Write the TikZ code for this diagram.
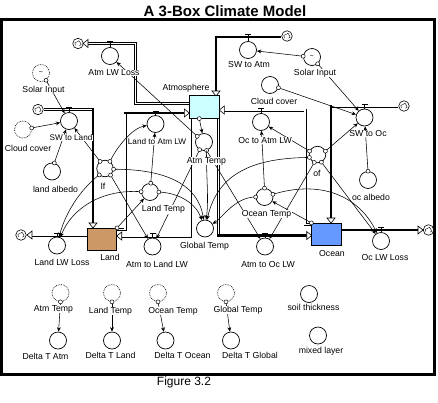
\documentclass[tikz,border=0pt]{standalone}
\usepackage{fontspec}
\setmainfont{Liberation Sans}
\usetikzlibrary{arrows.meta,calc}
\definecolor{atmc}{HTML}{CCFFFF}
\definecolor{landc}{HTML}{CC9966}
\definecolor{oceanc}{HTML}{6699FF}
\begin{document}
\begin{tikzpicture}[x=1pt,y=-1pt,
  lab/.style={font=\fontsize{8.7}{10}\selectfont, fill=white, inner sep=0.4pt},
  labs/.style={lab,font=\fontsize{8.2}{10}\selectfont},
  aux/.style={circle,draw,line width=0.7pt,minimum size=17pt,inner sep=0pt,fill=white},
  ghost/.style={aux,densely dotted},
  stock/.style={rectangle,draw,line width=0.7pt,inner sep=0pt},
  cloudsym/.style={circle,draw,line width=0.6pt,minimum size=10.5pt,inner sep=0pt,fill=white,
    path picture={\draw[line width=0.4pt,shift={(path picture bounding box.center)}]
      (-2.6,1.8) .. controls (-4.2,0.5) and (-3,-2.2) .. (-1,-1.6)
      .. controls (-0.5,-3.5) and (2.8,-3) .. (2.4,-0.6)
      .. controls (3.8,0.2) and (3.2,2.4) .. (1.4,2.2);}},
  orig/.style={circle,draw,fill=white,line width=0.5pt,minimum size=4pt,inner sep=0pt},
  conn/.style={line width=0.55pt,-{Stealth[length=4.5pt,width=3.8pt]}},
  dpipe/.style={line width=0.75pt,double=white,double distance=1.5pt},
  tpipe/.style={line width=2.4pt},
  ftri/.style={draw,fill=white,line width=0.6pt},
  tbar/.style={line width=0.8pt},
  tilde/.style={font=\fontsize{7}{7}\selectfont}
]
\useasboundingbox (0,0) rectangle (438,402);
\draw[line width=2.5pt] (1.5,19.5) rectangle (434.5,374.5);
\node[font=\bfseries\fontsize{15}{18}\selectfont] (title) at (225,11) {A 3-Box Climate Model};
\node[font=\fontsize{12}{14}\selectfont] (fig) at (184,382) {Figure 3.2};

% stocks
\node[stock,fill=atmc,minimum width=30pt,minimum height=22.5pt] (atm) at (204.3,107) {};
\node[stock,fill=landc,minimum width=29.5pt,minimum height=22.5pt] (land) at (102,239.5) {};
\node[stock,fill=oceanc,minimum width=30pt,minimum height=22.5pt] (ocean) at (326.7,234.5) {};

% clouds
\node[cloudsym] (c1) at (78,43.5) {};
\node[cloudsym] (c2) at (38,109.5) {};
\node[cloudsym] (c3) at (21,235) {};
\node[cloudsym] (c4) at (287,36) {};
\node[cloudsym] (c5) at (404,106) {};
\node[cloudsym] (c6) at (428.5,230) {};

% flow valves
\node[aux] (alwl) at (110,56) {};
\node[aux] (swa) at (248,50) {};
\node[aux] (swl) at (69,121) {};
\node[aux] (lta) at (155.5,124) {};
\node[aux] (ota) at (261,122) {};
\node[aux] (swo) at (364.5,117.5) {};
\node[aux] (llwl) at (57,245.5) {};
\node[aux] (atl) at (152.5,246.5) {};
\node[aux] (ato) at (265,246.5) {};
\node[aux] (olwl) at (381,241) {};

% auxiliaries
\node[ghost,tilde] (si1) at (41,73) {\textasciitilde};
\node[ghost] (cc1) at (23,129.5) {};
\node[aux] (la) at (52,171.5) {};
\node[aux,minimum size=16.5pt] (lf) at (105,168.5) {};
\node[aux] (lt) at (150,192) {};
\node[aux] (at) at (204,142) {};
\node[aux] (gt) at (205,228.5) {};
\node[aux] (ot) at (264.5,197) {};
\node[aux,minimum size=16.5pt] (of) at (317.5,154.5) {};
\node[aux] (oa) at (368,180) {};
\node[aux] (cc2) at (270,85) {};
\node[aux,tilde] (si2) at (312,57) {\textasciitilde};

% bottom row
\node[ghost] (g1) at (60.5,293) {};
\node[ghost] (g2) at (112,293) {};
\node[ghost] (g3) at (158,293) {};
\node[ghost] (g4) at (226,293) {};
\node[aux] (d1) at (58,340.5) {};
\node[aux] (d2) at (112,340.5) {};
\node[aux] (d3) at (165.5,340.5) {};
\node[aux] (d4) at (231,340.5) {};
\node[aux] (st) at (309,294) {};
\node[aux] (ml) at (318,335.5) {};

% pipe corners
\coordinate (k1) at (135.5,103.5);
\coordinate (k2) at (135.5,43.5);
\coordinate (k3) at (216,37);
\coordinate (k4) at (93,109.5);
\coordinate (k5) at (125,229.5);
\coordinate (k6) at (125,113);
\coordinate (k7) at (305,224.5);
\coordinate (k8) at (305,110);
\coordinate (k9) at (190,236);
\coordinate (k10) at (218.5,235.5);
\coordinate (k11) at (331,106);

% pipes
\draw[dpipe] (atm.west |- k1) -- (k1) -- (k2) -- (87,43.5);
\draw[tpipe] (c4.west |- k3) -- (k3) -- (216,91);
\draw[dpipe] (c2) -- (k4);
\draw[tpipe] (93,108.3) -- (93,223);
\draw[dpipe] (land.east |- k5) -- (k5) -- (k6);
\draw[line width=2.2pt] (123.6,113) -- (184,113);
\draw[dpipe] (ocean.west |- k7) -- (k7) -- (k8) -- (224,110);
\draw[dpipe] (atm.south -| k9) -- (k9) -- (121.5,236);
\draw[dpipe] (atm.south -| k10) -- (k10);
\draw[line width=2.2pt] (217,235.5) -- (306.5,235.5);
\draw[dpipe] (c5) -- (k11);
\draw[tpipe] (331,104.8) -- (331,218);
\draw[dpipe] (land.west |- c3) -- (32,235);
\draw[tpipe] (ocean.east |- c6) -- (418,230);

% flow arrowheads
\draw[ftri] (83,43.5) -- (88,39.5) -- (88,47.5) -- cycle;
\draw[ftri] (216,96) -- (212,91) -- (220,91) -- cycle;
\draw[ftri] (93,228) -- (89,223) -- (97,223) -- cycle;
\draw[ftri] (189.3,113) -- (184.3,109) -- (184.3,117) -- cycle;
\draw[ftri] (219.3,110) -- (224.3,106) -- (224.3,114) -- cycle;
\draw[ftri] (116.7,236) -- (121.7,232) -- (121.7,240) -- cycle;
\draw[ftri] (311.7,235.5) -- (306.7,231.5) -- (306.7,239.5) -- cycle;
\draw[ftri] (331,223.3) -- (327,218) -- (335,218) -- cycle;
\draw[ftri] (27,235) -- (32,231) -- (32,239) -- cycle;
\draw[ftri] (423,230) -- (418,226) -- (418,234) -- cycle;

% valve handles
\draw[tbar] (107,41) -- (113,41) (110,41) -- (alwl.north);
\draw[tbar] (245,34.3) -- (251,34.3) (248,34.3) -- (swa.north);
\draw[tbar] (66,107) -- (72,107) (69,107) -- (swl.north);
\draw[tbar] (152.5,111) -- (158.5,111) (155.5,111) -- (lta.north);
\draw[tbar] (258,108) -- (264,108) (261,108) -- (ota.north);
\draw[tbar] (361.5,104) -- (367.5,104) (364.5,104) -- (swo.north);
\draw[tbar] (54,233) -- (60,233) (57,233) -- (llwl.north);
\draw[tbar] (149.5,233.5) -- (155.5,233.5) (152.5,233.5) -- (atl.north);
\draw[tbar] (262,233) -- (268,233) (265,233) -- (ato.north);
\draw[tbar] (378,227.5) -- (384,227.5) (381,227.5) -- (olwl.north);

% connectors
\draw[conn] (si1.-55) node[orig]{} -- (swl);
\draw[conn] (cc1.10) node[orig]{} -- (swl);
\draw[conn] (la.75) node[orig]{} -- (swl);
\draw[conn] (lf.125) node[orig]{} -- (swl);
\draw[conn] (lf.55) node[orig]{} .. controls (118,145) and (133,128) .. (lta);
\draw[conn] (lf.-5) node[orig]{} .. controls (165,169) and (198,184) .. (gt);
\draw[conn] (lf.-50) node[orig]{} -- (atl);
\draw[conn] (lf.-132) node[orig]{} .. controls (84,186) and (66,210) .. (llwl);
\draw[conn] (lt.85) node[orig]{} -- (lta);
\draw[conn] (land.north east) node[orig]{} -- (lt);
\draw[conn] (lt.178) node[orig]{} .. controls (102,189) and (72,208) .. (llwl);
\draw[conn] (lt.0) node[orig]{} .. controls (180,193) and (196,204) .. (gt);
\draw[conn] (at.-120) node[orig]{} -- (atl);
\draw[conn] (at.-73) node[orig]{} -- (ato);
\draw[conn] (at.-73) .. controls (206,175) and (209,198) .. (gt);
\draw[conn] (at.140) node[orig]{} -- (alwl);
\draw[conn] ([xshift=-5pt]atm.south) node[orig]{} -- (at);
\draw[conn] (ot.90) node[orig]{} -- (ota);
\draw[conn] (ocean.north west) node[orig]{} -- (ot);
\draw[conn] (ot.18) node[orig]{} .. controls (320,180) and (358,195) .. (olwl);
\draw[conn] (ot.180) node[orig]{} .. controls (235,197) and (222,218) .. (gt);
\draw[conn] (of.200) node[orig]{} .. controls (255,158) and (218,172) .. (gt);
\draw[conn] (of.157) node[orig]{} -- (ota);
\draw[conn] (of.23) node[orig]{} -- (swo);
\draw[conn] (of.-112) node[orig]{} -- (ato);
\draw[conn] (of.-63) node[orig]{} -- (olwl);
\draw[conn] (oa.90) node[orig]{} -- (swo);
\draw[conn] (si2.175) node[orig]{} -- (swa);
\draw[conn] (si2.-50) node[orig]{} -- (swo);
\draw[conn] (cc2.-18) node[orig]{} -- (swo);
\draw[conn] (g1.-90) node[orig]{} -- (d1);
\draw[conn] (g2.-90) node[orig]{} -- (d2);
\draw[conn] (g3.-90) node[orig]{} -- (d3);
\draw[conn] (g4.-90) node[orig]{} -- (d4);

% labels
\node[lab] (t1) at (114,73) {Atm LW Loss};
\node[lab] (t2) at (249,65) {SW to Atm};
\node[lab] (t3) at (43.5,90) {Solar Input};
\node[lab] (t4) at (315,73) {Solar Input};
\node[lab] (t5) at (274,101.5) {Cloud cover};
\node[lab] (t6) at (28,148.5) {Cloud cover};
\node[labs] (t7) at (71,138) {SW to Land};
\node[lab] (t8) at (186,88) {Atmosphere};
\node[labs] (t9) at (157,142) {Land to Atm LW};
\node[lab] (t10) at (265,140.5) {Oc to Atm LW};
\node[lab] (t11) at (368,134) {SW to Oc};
\node[lab] (t12) at (55.5,189) {land albedo};
\node[lab] (t13) at (103,186) {lf};
\node[lab] (t14) at (206.5,161) {Atm Temp};
\node[lab] (t15) at (163.5,209.5) {Land Temp};
\node[lab] (t16) at (266.5,214) {Ocean Temp};
\node[lab] (t17) at (317,173) {of};
\node[lab] (t18) at (371,197.5) {oc albedo};
\node[lab] (t19) at (204.5,246) {Global Temp};
\node[lab] (t20) at (62,262) {Land LW Loss};
\node[lab] (t21) at (110,257) {Land};
\node[lab] (t22) at (157,264.5) {Atm to Land LW};
\node[lab] (t23) at (268,264) {Atm to Oc LW};
\node[lab] (t24) at (332,253) {Ocean};
\node[lab] (t25) at (385,257.5) {Oc LW Loss};
\node[lab] (t26) at (53.5,309) {Atm Temp};
\node[lab] (t27) at (110.5,311) {Land Temp};
\node[lab] (t28) at (173,311) {Ocean Temp};
\node[lab] (t29) at (238,310) {Global Temp};
\node[lab] (t30) at (45.5,356.5) {Delta T Atm};
\node[lab] (t31) at (110.5,355) {Delta T Land};
\node[lab] (t32) at (182.5,355) {Delta T Ocean};
\node[lab] (t33) at (250,355) {Delta T Global};
\node[lab] (t34) at (313.5,307.7) {soil thickness};
\node[lab] (t35) at (321,351.7) {mixed layer};
\end{tikzpicture}
\end{document}
